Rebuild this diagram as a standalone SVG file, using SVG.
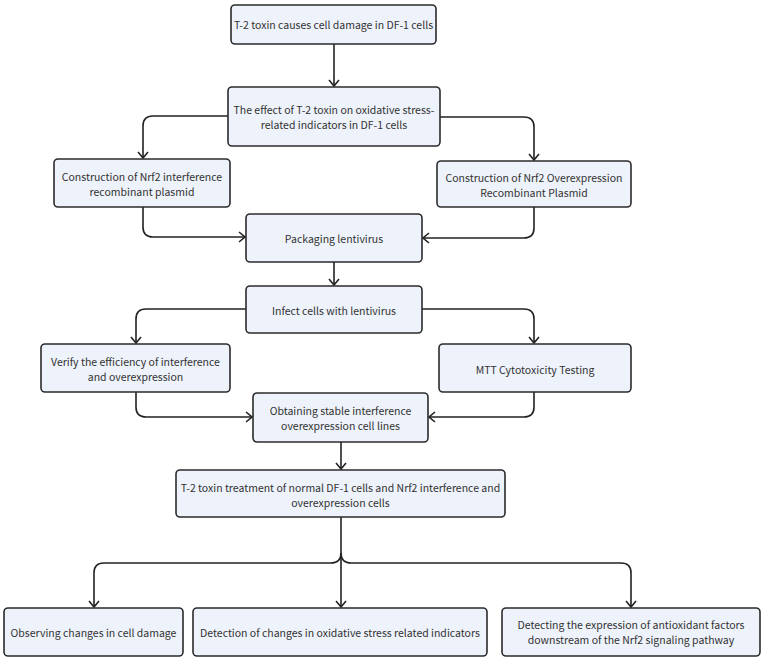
<svg xmlns="http://www.w3.org/2000/svg" width="764" height="659" viewBox="0 0 764 659">
<style>
.box{fill:#eef2fb;stroke:#2b2b2b;stroke-width:1.6}
.t{font-family:"Noto Sans CJK SC","Source Han Sans SC","Noto Sans",sans-serif;font-size:10.5px;fill:#333;text-anchor:middle;dominant-baseline:central}
.c{fill:none;stroke:#222;stroke-width:1.6}
</style>
<defs>
<marker id="ah" markerUnits="userSpaceOnUse" viewBox="0 0 8 12" refX="7" refY="6" markerWidth="8" markerHeight="12" orient="auto">
<path d="M1,1 L7,6 L1,11" fill="none" stroke="#222" stroke-width="1.6"/>
</marker>
</defs>
<rect width="764" height="659" fill="#fff"/>
<g id="connectors">
<path class="c" marker-end="url(#ah)" d="M334,44 V86"/>
<path class="c" marker-end="url(#ah)" d="M228,116 H153 Q143,116 143,126 V158"/>
<path class="c" marker-end="url(#ah)" d="M440,117 H524 Q534,117 534,127 V160"/>
<path class="c" marker-end="url(#ah)" d="M143,207 V227 Q143,237 153,237 H245"/>
<path class="c" marker-end="url(#ah)" d="M534,207 V228 Q534,238 524,238 H423"/>
<path class="c" marker-end="url(#ah)" d="M334,262 V285"/>
<path class="c" marker-end="url(#ah)" d="M246,309 H146 Q136,309 136,319 V343"/>
<path class="c" marker-end="url(#ah)" d="M422,309 H524 Q534,309 534,319 V343"/>
<path class="c" marker-end="url(#ah)" d="M136,392 V407 Q136,417 146,417 H252"/>
<path class="c" marker-end="url(#ah)" d="M534,392 V407 Q534,417 524,417 H429"/>
<path class="c" marker-end="url(#ah)" d="M341,442 V469"/>
<path class="c" marker-end="url(#ah)" d="M341,517 V607"/>
<path class="c" marker-end="url(#ah)" d="M341,553 Q341,563 331,563 H104 Q94,563 94,573 V607"/>
<path class="c" marker-end="url(#ah)" d="M341,553 Q341,563 351,563 H621 Q631,563 631,573 V607"/>
</g>
<g id="n1"><rect class="box" x="231" y="5" width="205" height="39" rx="4"/><text class="t" x="333.5" y="24.5">T-2 toxin causes cell damage in DF-1 cells</text></g>
<g id="n2"><rect class="box" x="228" y="87" width="212" height="59" rx="4"/><text class="t" x="334" y="109">The effect of T-2 toxin on oxidative stress-</text><text class="t" x="334" y="124">related indicators in DF-1 cells</text></g>
<g id="n3"><rect class="box" x="54" y="159" width="176" height="48" rx="4"/><text class="t" x="142" y="176">Construction of Nrf2 interference</text><text class="t" x="142" y="191">recombinant plasmid</text></g>
<g id="n4"><rect class="box" x="437" y="161" width="194" height="46" rx="4"/><text class="t" x="534" y="177">Construction of Nrf2 Overexpression</text><text class="t" x="534" y="192">Recombinant Plasmid</text></g>
<g id="n5"><rect class="box" x="246" y="214" width="176" height="48" rx="4"/><text class="t" x="334" y="238">Packaging lentivirus</text></g>
<g id="n6"><rect class="box" x="246" y="286" width="176" height="47" rx="4"/><text class="t" x="334" y="310">Infect cells with lentivirus</text></g>
<g id="n7"><rect class="box" x="41" y="344" width="189" height="48" rx="4"/><text class="t" x="135.5" y="361">Verify the efficiency of interference</text><text class="t" x="135.5" y="376">and overexpression</text></g>
<g id="n8"><rect class="box" x="439" y="344" width="192" height="48" rx="4"/><text class="t" x="535" y="369">MTT Cytotoxicity Testing</text></g>
<g id="n9"><rect class="box" x="253" y="393" width="175" height="49" rx="4"/><text class="t" x="340.5" y="410">Obtaining stable interference</text><text class="t" x="340.5" y="425">overexpression cell lines</text></g>
<g id="n10"><rect class="box" x="176" y="470" width="329" height="47" rx="4"/><text class="t" x="340.5" y="487">T-2 toxin treatment of normal DF-1 cells and Nrf2 interference and</text><text class="t" x="340.5" y="502">overexpression cells</text></g>
<g id="n11"><rect class="box" x="4" y="608" width="179" height="48" rx="4"/><text class="t" x="93.5" y="632">Observing changes in cell damage</text></g>
<g id="n12"><rect class="box" x="193" y="608" width="294" height="48" rx="4"/><text class="t" x="340" y="632">Detection of changes in oxidative stress related indicators</text></g>
<g id="n13"><rect class="box" x="502" y="608" width="258" height="48" rx="4"/><text class="t" x="631" y="624">Detecting the expression of antioxidant factors</text><text class="t" x="631" y="639">downstream of the Nrf2 signaling pathway</text></g>
</svg>
